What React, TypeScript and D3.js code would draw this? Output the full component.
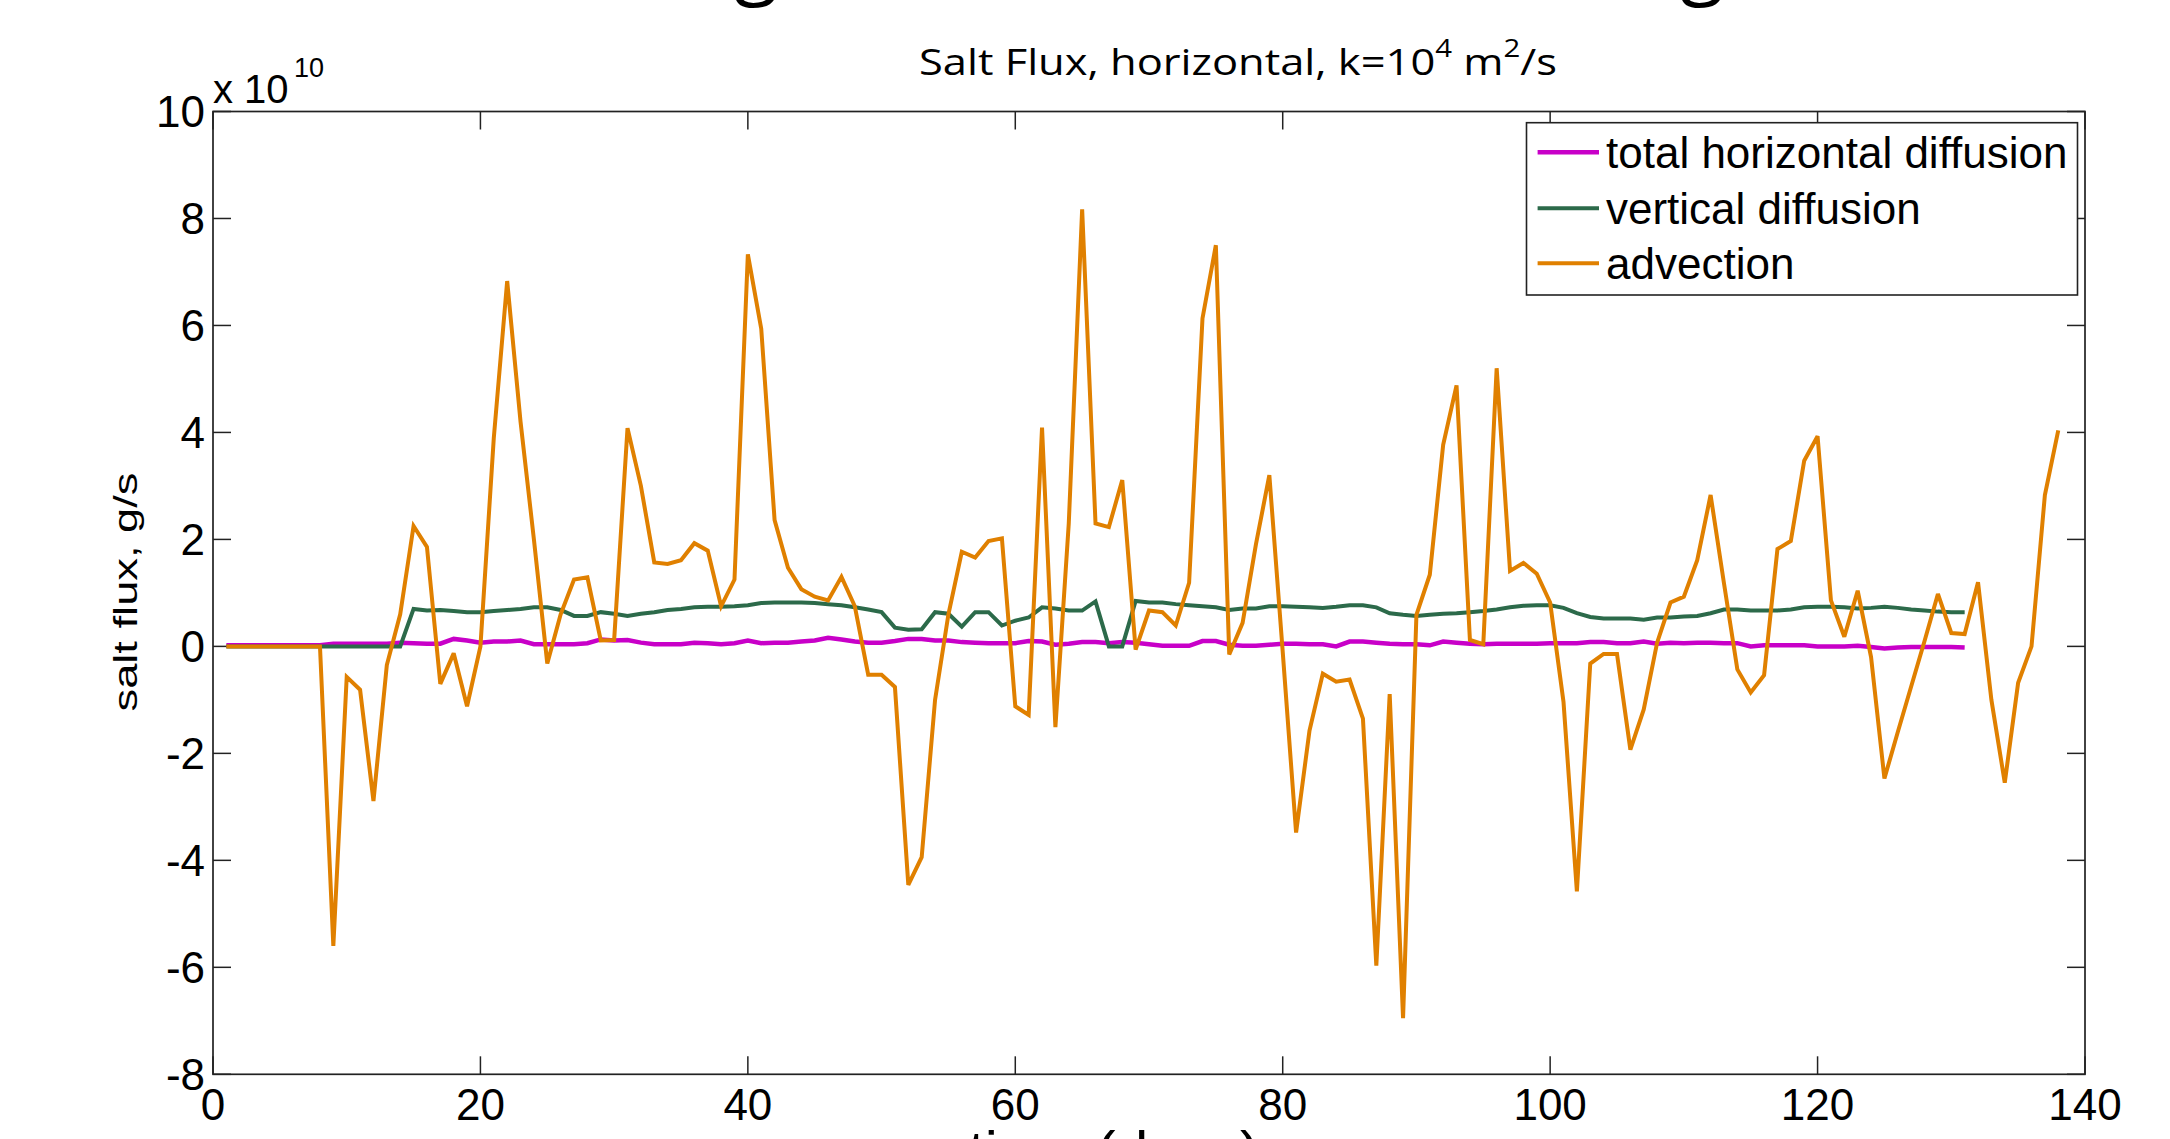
import React, { useEffect } from "react";
import * as d3 from "d3";

// ---- data (values in units of 1e10 g/s) ----
const advectionDays = d3.range(1, 139);
const advection = [
  0, 0, 0, 0, 0, 0, 0, 0,
  -5.6, -0.57, -0.81, -2.89, -0.35, 0.6, 2.25, 1.86, -0.7, -0.13, -1.12, 0.0,
  3.9, 6.83, 4.2, 2.0, -0.32, 0.6, 1.25, 1.29, 0.11, 0.12,
  4.08, 3.0, 1.57, 1.54, 1.61, 1.93, 1.79, 0.75, 1.25, 7.33,
  5.94, 2.36, 1.47, 1.07, 0.93, 0.86, 1.3, 0.75, -0.53, -0.53,
  -0.76, -4.46, -3.94, -1.0, 0.6, 1.77, 1.66, 1.97, 2.02, -1.12,
  -1.28, 4.09, -1.51, 2.3, 8.17, 2.3, 2.23, 3.11, -0.06, 0.67,
  0.64, 0.39, 1.19, 6.13, 7.5, -0.15, 0.44, 1.91, 3.2, -0.1,
  -3.48, -1.58, -0.51, -0.66, -0.62, -1.35, -5.97, -0.89, -6.95, 0.59,
  1.34, 3.77, 4.88, 0.12, 0.04, 5.2, 1.41, 1.56, 1.36, 0.82,
  -1.04, -4.58, -0.32, -0.14, -0.14, -1.93, -1.18, 0.07, 0.82, 0.93,
  1.61, 2.83, 1.18, -0.43, -0.86, -0.54, 1.82, 1.97, 3.47, 3.93,
  0.86, 0.18, 1.04, -0.2, -2.47, -1.6, -0.75, 0.1, 0.98, 0.25,
  0.23, 1.2, -1.0, -2.55, -0.68, 0.0, 2.83, 4.04,
];

const diffusionDays = d3.range(1, 132);
const verticalDiffusion = [
  0, 0, 0, 0, 0, 0, 0, 0, 0, 0, 0, 0, 0, 0,
  0.7, 0.67, 0.68, 0.66, 0.64, 0.64,
  0.66, 0.68, 0.7, 0.73, 0.73, 0.68, 0.57, 0.57, 0.64, 0.61,
  0.57, 0.61, 0.64, 0.68, 0.7, 0.73, 0.74, 0.74, 0.75, 0.77,
  0.81, 0.82, 0.82, 0.82, 0.81, 0.79, 0.77, 0.73, 0.69, 0.64,
  0.35, 0.31, 0.32, 0.64, 0.61, 0.37, 0.64, 0.64, 0.39, 0.48,
  0.54, 0.73, 0.71, 0.67, 0.67, 0.84, 0.0, 0.0, 0.85, 0.82,
  0.82, 0.79, 0.77, 0.75, 0.73, 0.68, 0.71, 0.71, 0.75, 0.75,
  0.74, 0.73, 0.72, 0.74, 0.77, 0.77, 0.73, 0.62, 0.59, 0.57,
  0.59, 0.61, 0.62, 0.64, 0.66, 0.69, 0.73, 0.76, 0.77, 0.77,
  0.72, 0.62, 0.55, 0.52, 0.52, 0.52, 0.5, 0.54, 0.54, 0.56,
  0.57, 0.62, 0.69, 0.69, 0.67, 0.67, 0.67, 0.69, 0.73, 0.74,
  0.74, 0.73, 0.71, 0.72, 0.74, 0.72, 0.69, 0.67, 0.65, 0.64, 0.64,
];
const horizontalDiffusion = [
  0.02, 0.02, 0.02, 0.02, 0.02, 0.02, 0.02, 0.02,
  0.05, 0.05, 0.05, 0.05, 0.05,
  0.07, 0.06, 0.05, 0.05, 0.14, 0.11, 0.07,
  0.09, 0.09, 0.11, 0.04, 0.04, 0.04, 0.04, 0.06, 0.13, 0.11,
  0.12, 0.07, 0.04, 0.04, 0.04, 0.07, 0.06, 0.04, 0.06, 0.11,
  0.06, 0.07, 0.07, 0.09, 0.11, 0.16, 0.13, 0.09, 0.07, 0.07,
  0.1, 0.14, 0.14, 0.11, 0.11, 0.08, 0.07, 0.06, 0.06, 0.06,
  0.1, 0.09, 0.03, 0.05, 0.08, 0.08, 0.06, 0.08, 0.07, 0.04,
  0.01, 0.01, 0.01, 0.1, 0.1, 0.03, 0.01, 0.01, 0.03, 0.05,
  0.05, 0.04, 0.04, 0.0, 0.09, 0.09, 0.07, 0.05, 0.04, 0.04,
  0.02, 0.09, 0.07, 0.05, 0.04, 0.05, 0.05, 0.05, 0.05, 0.06,
  0.06, 0.06, 0.08, 0.08, 0.06, 0.06, 0.09, 0.05, 0.07, 0.06,
  0.07, 0.07, 0.06, 0.06, 0.0, 0.02, 0.02, 0.02, 0.02, 0.0,
  0.0, 0.0, 0.01, -0.01, -0.04, -0.02, -0.01, -0.01, -0.01, -0.01, -0.02,
];

const xTicks = [0, 20, 40, 60, 80, 100, 120, 140];
const yTicks = [-8, -6, -4, -2, 0, 2, 4, 6, 8, 10];

const seriesNames = ["total horizontal diffusion", "vertical diffusion", "advection"];
const seriesColors = ["#c800c8", "#2c6a4a", "#e08000"];
const seriesWidths = [4.5, 4, 4];

const W = 2170;
const H = 1139;
const PL = 213, PR = 2085, PT = 111.5, PB = 1074.3;

export default function App() {
  useEffect(() => {
    document.body.style.margin = "0";
    document.body.style.overflow = "hidden";
  }, []);

  const x = d3.scaleLinear().domain([0, 140]).range([PL, PR]);
  const y = d3.scaleLinear().domain([-8, 10]).range([PB, PT]);

  const line = d3
    .line<[number, number]>()
    .x((d) => x(d[0]))
    .y((d) => y(d[1]));

  const series: [number, number][][] = [
    diffusionDays.map((d, i) => [d, horizontalDiffusion[i]] as [number, number]),
    diffusionDays.map((d, i) => [d, verticalDiffusion[i]] as [number, number]),
    advectionDays.map((d, i) => [d, advection[i]] as [number, number]),
  ];

  const font = "'Liberation Sans', Arial, sans-serif";
  const tickLen = 18;
  const axisColor = "#222";

  const legendX = 1526.5, legendY = 122.7, legendW = 551, legendH = 172.3;
  const legendRows = [152.3, 208.3, 263.3];

  return (
    <svg width={W} height={H} style={{ display: "block", background: "#fff" }}>
      <rect x={0} y={0} width={W} height={H} fill="#fff" />
      {/* cut-off slide heading descenders */}
      <text x={756} y={-11} fontFamily="'Open Sans', sans-serif" fontSize={80} textAnchor="middle" fill="#000">g</text>
      <text x={1702} y={-11} fontFamily="'Open Sans', sans-serif" fontSize={80} textAnchor="middle" fill="#000">g</text>

      {/* title */}
      <text
        x={919}
        y={75}
        fontFamily="'Open Sans', sans-serif"
        fontSize={37}
        fill="#000"
        textLength={638}
        lengthAdjust="spacingAndGlyphs"
      >
        Salt Flux, horizontal, k=10
        <tspan dy={-18} fontSize={25}>4</tspan>
        <tspan dy={18}> m</tspan>
        <tspan dy={-18} fontSize={25}>2</tspan>
        <tspan dy={18}>/s</tspan>
      </text>

      {/* plot frame */}
      <rect x={PL} y={PT} width={PR - PL} height={PB - PT} fill="#fff" stroke={axisColor} strokeWidth={1.7} />

      {/* ticks */}
      {xTicks.map((t) => (
        <g key={"xt" + t}>
          <line x1={x(t)} x2={x(t)} y1={PB} y2={PB - tickLen} stroke={axisColor} strokeWidth={1.5} />
          <line x1={x(t)} x2={x(t)} y1={PT} y2={PT + tickLen} stroke={axisColor} strokeWidth={1.5} />
          <text x={x(t)} y={1120} textAnchor="middle" fontFamily={font} fontSize={44} fill="#000">
            {t}
          </text>
        </g>
      ))}
      {yTicks.map((t) => (
        <g key={"yt" + t}>
          <line x1={PL} x2={PL + tickLen} y1={y(t)} y2={y(t)} stroke={axisColor} strokeWidth={1.5} />
          <line x1={PR} x2={PR - tickLen} y1={y(t)} y2={y(t)} stroke={axisColor} strokeWidth={1.5} />
          <text x={205} y={y(t)} dy="0.36em" textAnchor="end" fontFamily={font} fontSize={44} fill="#000">
            {t}
          </text>
        </g>
      ))}

      {/* exponent */}
      <text x={213} y={103} fontFamily={font} fontSize={40} fill="#000">x 10</text>
      <text x={294} y={77} fontFamily={font} fontSize={27} fill="#000">10</text>

      {/* axis labels */}
      <text
        transform={`translate(137, 592) rotate(-90)`}
        textAnchor="middle"
        fontFamily={font}
        fontSize={33}
        textLength={239}
        lengthAdjust="spacingAndGlyphs"
        fill="#000"
      >
        salt flux, g/s
      </text>
      <text
        x={1114}
        y={1170}
        textAnchor="middle"
        fontFamily={font}
        fontSize={56}
        textLength={291}
        lengthAdjust="spacingAndGlyphs"
        fill="#000"
      >
        time (days)
      </text>

      {/* series */}
      <g>
        {series.map((s, i) => (
          <path
            key={seriesNames[i]}
            d={line(s) || ""}
            fill="none"
            stroke={seriesColors[i]}
            strokeWidth={seriesWidths[i]}
            strokeLinejoin="miter"
            strokeMiterlimit={3}
          />
        ))}
      </g>

      {/* legend */}
      <rect x={legendX} y={legendY} width={legendW} height={legendH} fill="#fff" stroke={axisColor} strokeWidth={1.6} />
      {seriesNames.map((n, i) => (
        <g key={"lg" + n}>
          <line x1={1537.6} x2={1599} y1={legendRows[i]} y2={legendRows[i]} stroke={seriesColors[i]} strokeWidth={seriesWidths[i]} />
          <text x={1606} y={legendRows[i] + 16} fontFamily={font} fontSize={44} fill="#000">
            {n}
          </text>
        </g>
      ))}
    </svg>
  );
}
